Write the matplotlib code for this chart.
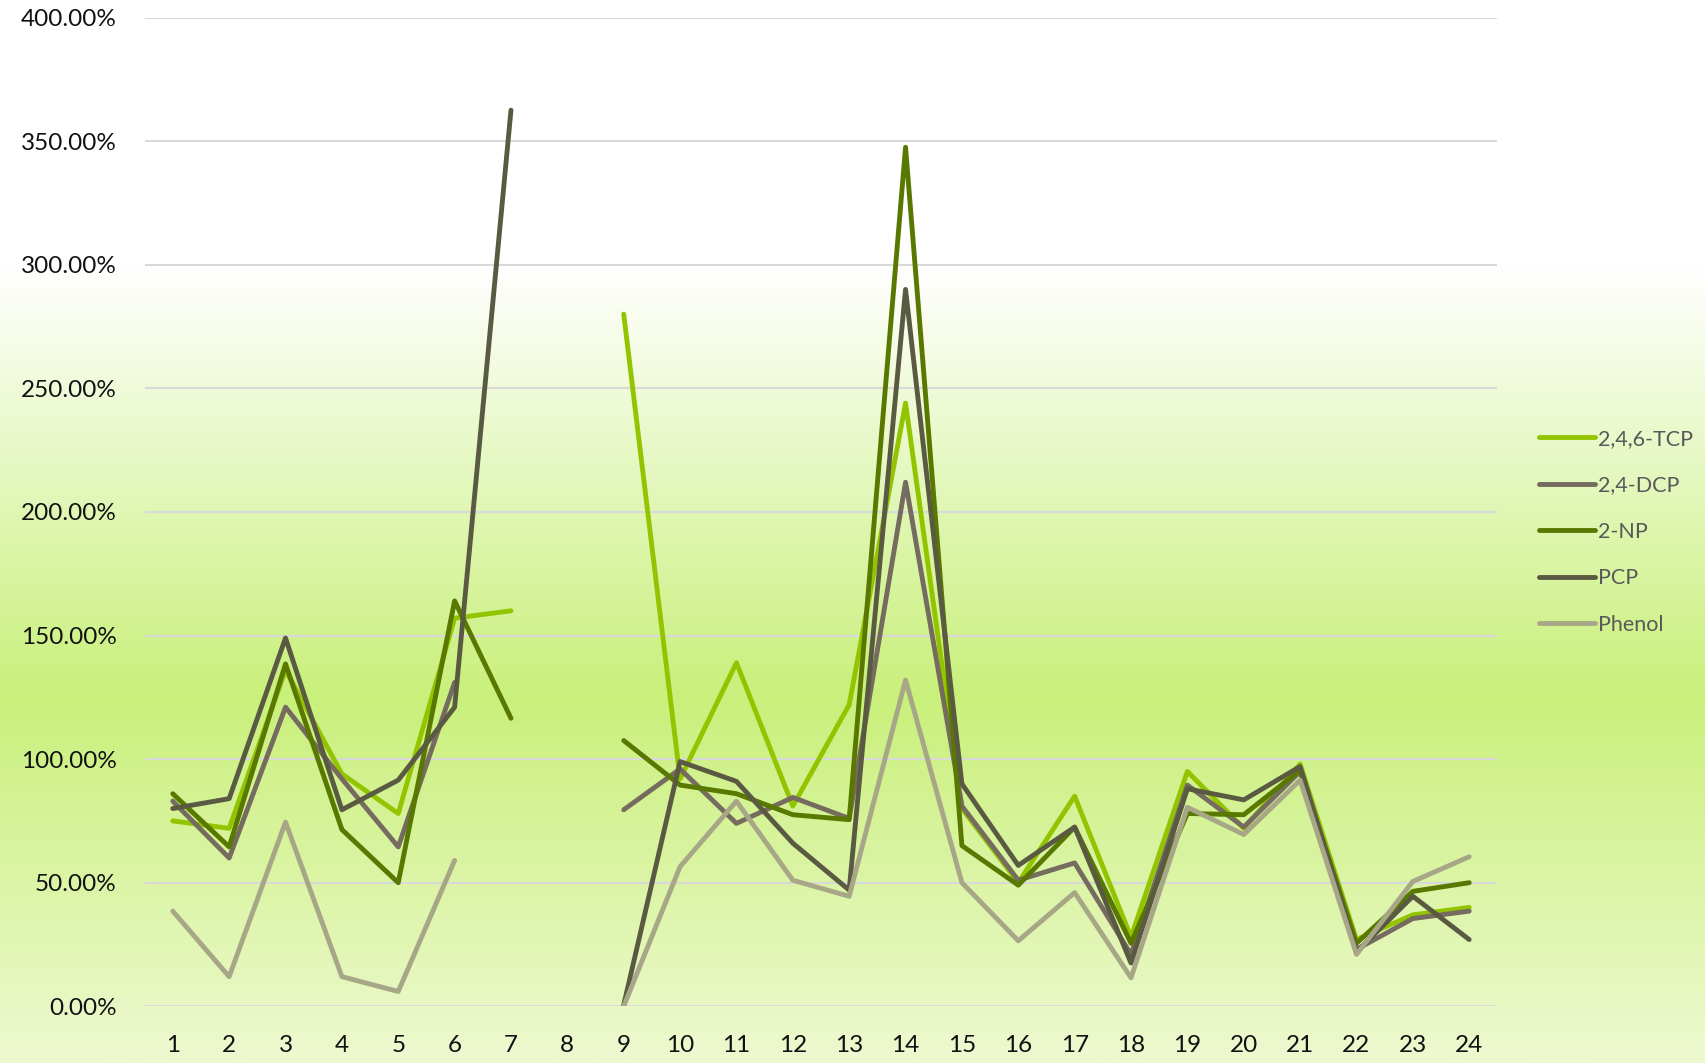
import numpy as np
import matplotlib
matplotlib.use("Agg")
import matplotlib.pyplot as plt
from matplotlib.colors import LinearSegmentedColormap
from matplotlib.ticker import FuncFormatter, MultipleLocator

nan = np.nan

# Sample numbers 1..24
samples = list(range(1, 25))

# Recovery (%) per compound
tcp_246 = [75, 72, 136, 94, 78, 157, 160, nan, 280, 92, 139, 81, 122, 244,
           80, 50, 85, 28, 95, 72, 98, 27, 37, 40]
dcp_24 = [83, 60, 121, 92, 64.5, 131, nan, nan, 79.5, 96, 74, 84.5, 76, 212,
          81, 51, 58, 21, 89.5, 72.5, 95, 23, 35.5, 38.5]
np_2 = [86, 64.5, 138.5, 71.5, 50, 164, 116.5, nan, 107.5, 89.5, 86, 77.5, 75.5, 347.5,
        65, 49, 72.5, 25.5, 78, 77.5, 95.5, 25.5, 46.5, 50]
pcp = [80, 84, 149, 79.5, 91.5, 121, 362.5, nan, 0.5, 99, 91, 66, 47, 290,
       90, 57, 72.5, 17.5, 88, 83.5, 97, 22, 44.5, 27]
phenol = [38.5, 12, 74.5, 12, 6, 59, nan, nan, 0, 56.5, 83, 51, 44.5, 132,
          50, 26.5, 46, 11.5, 80.5, 69.5, 91.5, 21, 50.5, 60.5]

series_names = ["2,4,6-TCP", "2,4-DCP", "2-NP", "PCP", "Phenol"]
series_values = [tcp_246, dcp_24, np_2, pcp, phenol]
series_colors = ["#93C400", "#756B5E", "#587800", "#5A5A42", "#A7A787"]

W, H = 1705, 1063
fig = plt.figure(figsize=(W / 100, H / 100), dpi=100)

# Vertical background gradient over the whole figure
bg_ax = fig.add_axes([0, 0, 1, 1], zorder=0)
bg_cmap = LinearSegmentedColormap.from_list(
    "bg",
    [(0.0, "#FFFFFF"), (0.25, "#FFFFFF"), (0.655, "#C9F07B"), (1.0, "#EEF9D0")],
)
grad = np.linspace(0, 1, 512).reshape(-1, 1)
bg_ax.imshow(grad, aspect="auto", cmap=bg_cmap, extent=[0, 1, 1, 0])
bg_ax.set_axis_off()

ax = fig.add_axes([144.6 / W, 1 - 1006.3 / H, (1497.4 - 144.6) / W, (1006.3 - 17.5) / H],
                  zorder=1)
ax.patch.set_alpha(0)

x = np.array(samples)
for name, vals, col in zip(series_names, series_values, series_colors):
    ax.plot(x, np.array(vals, dtype=float), color=col, lw=3.5, label=name,
            solid_capstyle="round", solid_joinstyle="round", zorder=3)

ax.set_xlim(0.5, 24.5)
ax.set_ylim(0, 400)
ax.yaxis.set_major_locator(MultipleLocator(50))
ax.yaxis.set_major_formatter(FuncFormatter(lambda v, p: f"{v:.2f}%"))
ax.set_xticks(x)
ax.set_xticklabels([str(s) for s in samples])
ax.grid(axis="y", color="#D9D9D9", lw=1.5, zorder=1)
ax.set_axisbelow(True)
for sp in ax.spines.values():
    sp.set_visible(False)

font = "Lato"
ax.tick_params(axis="both", length=0, labelsize=17.5, labelcolor="#111111")
ax.tick_params(axis="y", pad=20)
ax.tick_params(axis="x", pad=21)
for lbl in ax.get_xticklabels() + ax.get_yticklabels():
    lbl.set_family(font)

leg = fig.legend(loc="center left", bbox_to_anchor=(1538.7 / W, 1 - 531.7 / H),
                 bbox_transform=fig.transFigure, frameon=False,
                 borderpad=0, borderaxespad=0, handlelength=2.6,
                 handletextpad=0.15, labelspacing=1.23,
                 prop={"family": font, "size": 15.5})
for t in leg.get_texts():
    t.set_color("#595959")

fig.savefig("out.png", dpi=100)
